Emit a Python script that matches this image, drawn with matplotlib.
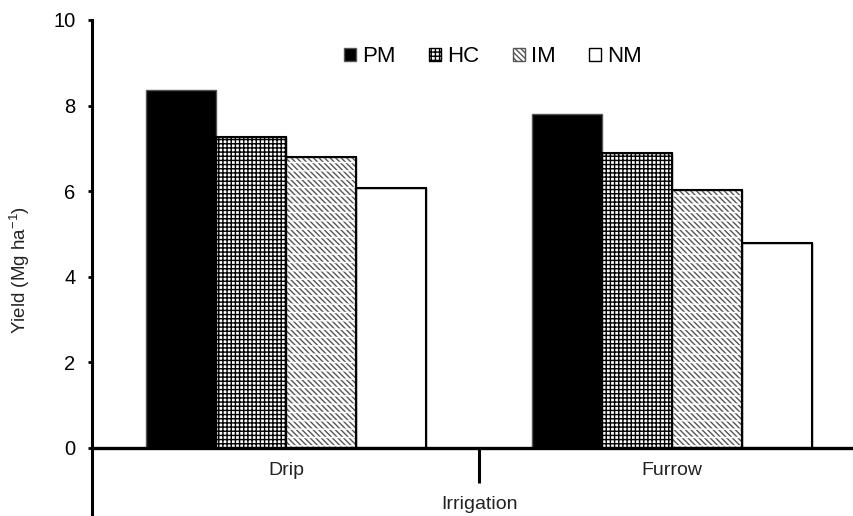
import matplotlib
matplotlib.use("Agg")
import matplotlib.pyplot as plt
import numpy as np

plt.rcParams["font.family"] = ["Liberation Sans", "DejaVu Sans"]
plt.rcParams["mathtext.fontset"] = "custom"
plt.rcParams["mathtext.rm"] = "Liberation Sans"

# Yield by irrigation system and treatment
irrigation = ["Drip", "Furrow"]
treatments = ["PM", "HC", "IM", "NM"]
pm_yield = [8.36, 7.81]
hc_yield = [7.27, 6.89]
im_yield = [6.81, 6.03]
nm_yield = [6.07, 4.78]

series = [pm_yield, hc_yield, im_yield, nm_yield]
styles = [
    dict(facecolor="black", edgecolor="#555555", hatch=None),
    dict(facecolor="white", edgecolor="black", hatch="++++"),
    dict(facecolor="white", edgecolor="#555555", hatch="\\\\\\\\\\\\"),
    dict(facecolor="white", edgecolor="black", hatch=None),
]

fig = plt.figure(figsize=(8.54, 5.16), dpi=100)
ax = fig.add_axes([92 / 854, 0, 1 - 92 / 854, (516 - 20) / 516])

x = np.arange(len(irrigation))
width = 0.181
handles = []
for i, (vals, st) in enumerate(zip(series, styles)):
    pos = x + (i - 1.5) * width
    bars = ax.bar(pos, vals, width, color=st["facecolor"], edgecolor=st["edgecolor"],
                  hatch=st["hatch"], linewidth=1.0, zorder=2)
    if treatments[i] == "IM":
        # white bands across the diagonal strokes, then a crisp outline
        ax.bar(pos, vals, width, facecolor="none", edgecolor="white",
               hatch="--", linewidth=0, zorder=3)
        ax.bar(pos, vals, width, fill=False, edgecolor="black",
               linewidth=1.5, zorder=4)
    elif treatments[i] != "PM":
        ax.bar(pos, vals, width, fill=False, edgecolor="black",
               linewidth=1.5, zorder=4)
    handles.append(bars)

ax.set_xlim(-0.503, 1.471)
ax.set_ylim(-1.59, 10)
for side in ("top", "right", "bottom"):
    ax.spines[side].set_visible(False)
ax.spines["left"].set_linewidth(2.2)
ax.spines["left"].set_bounds(-1.59, 10)
ax.axhline(0, color="black", linewidth=2.4, zorder=5)
ax.plot([0.5, 0.5], [0, -0.82], color="black", linewidth=2.2, solid_capstyle="butt")

ax.set_yticks(np.arange(0, 11, 2))
ax.set_xticks([])
ax.tick_params(axis="y", length=3, width=2, labelsize=14.5, pad=9)

for xi, name in zip(x, irrigation):
    ax.text(xi, -0.52, name, ha="center", va="center", fontsize=14, color="#222222")
ax.text(0.5, -1.33, "Irrigation", ha="center", va="center", fontsize=14, color="#222222")

fig.text(20 / 854, 1 - 270 / 516, r"Yield (Mg ha$^{\mathrm{-1}}$)", rotation=90,
         ha="center", va="center", fontsize=13.5, color="#222222")

ax.legend(handles, treatments, ncol=4, loc="center",
          bbox_to_anchor=(493 / 854, 1 - 57 / 516), bbox_transform=fig.transFigure,
          frameon=False, fontsize=16, handlelength=0.55, handleheight=0.55,
          handletextpad=0.27, columnspacing=1.5)

fig.savefig("out.png", dpi=100)
